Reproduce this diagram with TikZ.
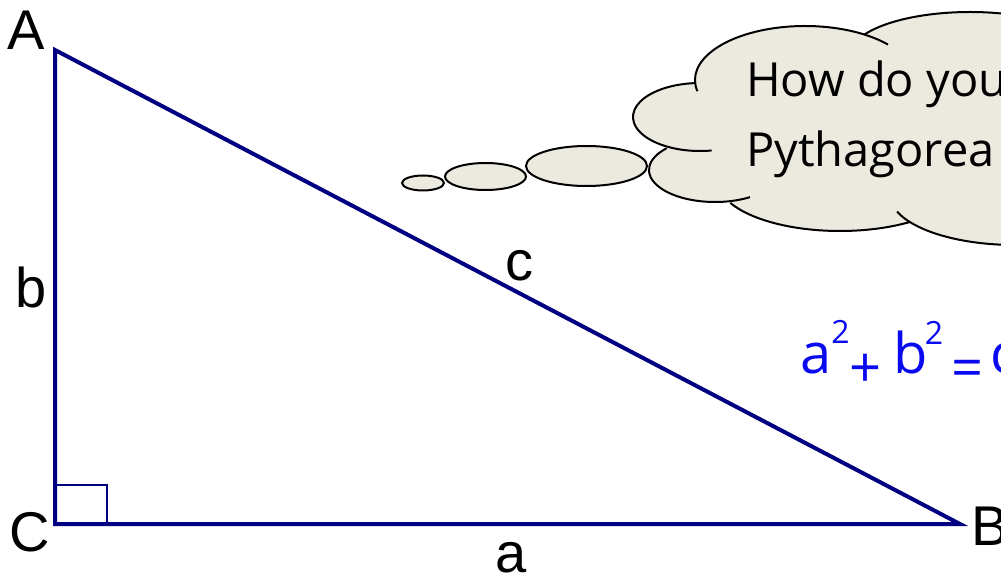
\documentclass[tikz,border=0pt]{standalone}
\usepackage{fontspec}
\setmainfont{Liberation Sans}
\newfontfamily\cloudfont{Open Sans}
\usetikzlibrary{calc,shapes.geometric}
\definecolor{navyline}{RGB}{0,0,128}
\definecolor{cloudbg}{RGB}{236,233,223}
\definecolor{handblue}{RGB}{10,10,240}
\newcommand\lobe[6]{($(#1,#2)+(#5:#3 and #4)$) arc[start angle=#5,end angle=#6,x radius=#3,y radius=#4]}
\begin{document}
\begin{tikzpicture}[x=1pt,y=-1pt,
  tri/.style={draw=navyline,line width=4pt,line join=miter},
  lbl/.style={font=\fontsize{56}{56}\selectfont,inner sep=0pt,anchor=base},
  cloudline/.style={draw=black,line width=2pt},
  bubble/.style={ellipse,draw=black,fill=cloudbg,line width=2pt,inner sep=0pt},
  cloudtext/.style={font=\cloudfont\fontsize{47}{47}\selectfont,inner sep=0pt,anchor=base west},
]
\useasboundingbox (0,0) rectangle (1001,577);
\clip (0,0) rectangle (1001,577);

% thought bubbles
\node[bubble,minimum width=42pt,minimum height=15pt] (b1) at (423,183) {};
\node[bubble,minimum width=81pt,minimum height=27pt] (b2) at (485.5,176.5) {};
\node[bubble,minimum width=121pt,minimum height=40pt] (b3) at (586.5,166) {};

% cloud fill
\fill[cloudbg] \lobe{840}{181}{122}{50}{55}{154}
  -- \lobe{715}{170}{66}{32}{58}{223}
  -- \lobe{700}{117}{67}{34}{80}{266}
  -- \lobe{805}{80}{110}{54}{168}{319}
  -- \lobe{970}{55}{120}{43}{208.5}{345}
  -- \lobe{1015}{195}{125}{50}{15}{160.7} -- cycle;
\fill[cloudbg] (830,130) ellipse [x radius=150, y radius=75];
% cloud outline
\draw[cloudline] \lobe{840}{181}{122}{50}{55}{154};
\draw[cloudline] \lobe{715}{170}{66}{32}{58}{223};
\draw[cloudline] \lobe{700}{117}{67}{34}{80}{266};
\draw[cloudline] \lobe{805}{80}{110}{54}{168}{319};
\draw[cloudline] \lobe{970}{55}{120}{43}{208.5}{345};
\draw[cloudline] \lobe{1015}{195}{125}{50}{15}{160.7};

\node[cloudtext] (t1) at (746,97) {How do you};
\node[cloudtext] (t2) at (746,167) {Pythagorea};

% formula
\node[inner sep=0pt,anchor=base west,text=handblue,font=\cloudfont\fontsize{56}{56}\selectfont] (f) at (800,373)
 {a\hspace{0pt}\raisebox{30pt}{\fontsize{32}{32}\selectfont 2}\hspace{0pt}\raisebox{-14pt}{+}\hspace{12pt}b\hspace{-3pt}\raisebox{29pt}{\fontsize{32}{32}\selectfont 2}\hspace{8pt}\raisebox{-14pt}{=}\hspace{7pt}c};

% triangle
\coordinate (A) at (55,50);
\coordinate (C) at (55,524);
\coordinate (B) at (960,524);
\draw[tri] (A) -- (C) -- (B) -- cycle;
\coordinate (R1) at (55,485);
\coordinate (R2) at (107,524);
\draw[navyline,line width=1.3pt] (R1) -- (R1 -| R2) -- (R2);

\node[lbl] (lA) at (26.5,50) {A};
\node[lbl] (lC) at (30,551) {C};
\node[lbl] (lB) at (990,545) {B};
\node[lbl] (lb) at (31.5,307) {b};
\node[lbl] (lc) at (519.5,280) {c};
\node[lbl] (la) at (511.5,572) {a};
\end{tikzpicture}
\end{document}
